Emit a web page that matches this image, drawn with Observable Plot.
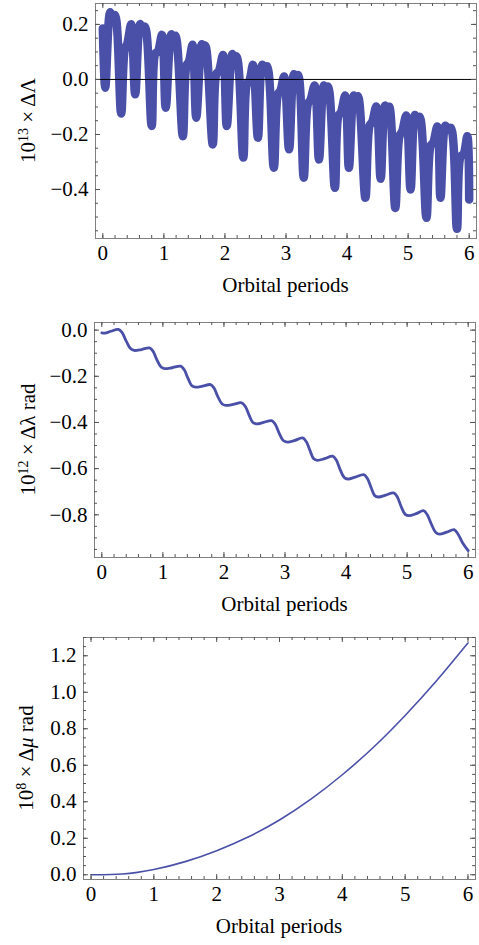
<!DOCTYPE html>
<html><head><meta charset="utf-8">
<script src="https://cdn.jsdelivr.net/npm/d3@7"></script>
<script src="https://cdn.jsdelivr.net/npm/@observablehq/plot@0.6"></script>
<style>
body{margin:0;background:#fff}
#chart svg{display:block}
</style></head><body><div id="chart"></div>
<script>
// ---------- data ----------
// Panel 1: 10^13 × ΔΛ (centre line of the thick oscillating band)
const periods1 = [0.00,0.04,0.12,0.16,0.20,0.30,0.36,0.40,0.465,0.53,0.61,0.65,0.69,0.80,0.86,0.90,0.97,1.03,1.12,1.155,1.19,1.31,1.37,1.41,1.47,1.53,1.62,1.65,1.68,1.80,1.86,1.90,1.97,2.03,2.12,2.155,2.19,2.30,2.36,2.40,2.46,2.54,2.61,2.65,2.69,2.80,2.87,2.91,2.97,3.05,3.13,3.165,3.20,3.29,3.36,3.40,3.47,3.54,3.62,3.655,3.69,3.80,3.86,3.90,3.97,4.03,4.11,4.145,4.18,4.30,4.37,4.41,4.48,4.55,4.62,4.655,4.69,4.79,4.86,4.90,4.97,5.04,5.11,5.15,5.19,5.30,5.37,5.41,5.48,5.53,5.61,5.655,5.70,5.80,5.86,5.91,5.97,6.00];
const dLambdaCap = [0.185,-0.03,0.244,0.222,0.234,-0.124,0.11,0.13,0.201,-0.054,0.201,0.183,0.192,-0.169,0.094,0.10,0.162,-0.103,0.164,0.148,0.159,-0.206,0.05,0.065,0.126,-0.139,0.128,0.113,0.123,-0.236,0.02,0.03,0.089,-0.169,0.092,0.078,0.084,-0.284,-0.016,-0.005,0.053,-0.212,0.053,0.04,0.048,-0.321,-0.052,-0.04,0.011,-0.254,0.019,0.006,0.016,-0.357,-0.088,-0.075,-0.022,-0.291,-0.022,-0.037,-0.026,-0.394,-0.131,-0.12,-0.058,-0.321,-0.058,-0.074,-0.061,-0.43,-0.167,-0.155,-0.098,-0.361,-0.095,-0.112,-0.099,-0.467,-0.204,-0.19,-0.131,-0.40,-0.129,-0.147,-0.136,-0.503,-0.24,-0.23,-0.171,-0.43,-0.168,-0.182,-0.176,-0.543,-0.28,-0.27,-0.206,-0.436];

// Panel 2: 10^12 × Δλ rad
const periods2 = [0.00,0.05,0.15,0.27,0.33,0.40,0.47,0.53,0.65,0.78,0.84,0.90,0.97,1.03,1.15,1.29,1.35,1.41,1.47,1.53,1.65,1.78,1.84,1.90,1.97,2.03,2.15,2.29,2.35,2.41,2.47,2.53,2.65,2.78,2.84,2.90,2.97,3.04,3.15,3.29,3.35,3.41,3.47,3.53,3.65,3.78,3.84,3.90,3.97,4.03,4.15,4.29,4.35,4.41,4.47,4.53,4.65,4.78,4.84,4.90,4.97,5.03,5.15,5.27,5.33,5.40,5.47,5.53,5.65,5.77,5.83,5.91,6.00];
const dLambda = [-0.012,-0.013,-0.005,0.003,-0.01,-0.048,-0.080,-0.088,-0.084,-0.077,-0.092,-0.128,-0.160,-0.167,-0.163,-0.156,-0.172,-0.208,-0.240,-0.247,-0.243,-0.236,-0.252,-0.288,-0.320,-0.326,-0.322,-0.315,-0.331,-0.367,-0.399,-0.406,-0.400,-0.392,-0.408,-0.444,-0.478,-0.485,-0.479,-0.467,-0.484,-0.522,-0.557,-0.564,-0.557,-0.546,-0.563,-0.602,-0.638,-0.645,-0.637,-0.626,-0.643,-0.682,-0.717,-0.723,-0.715,-0.705,-0.723,-0.763,-0.798,-0.804,-0.795,-0.782,-0.800,-0.842,-0.877,-0.884,-0.875,-0.864,-0.882,-0.922,-0.955];

// Panel 3: 10^8 × Δμ rad
const periods3 = [0,0.5,1.0,1.5,2.0,2.5,3.0,3.5,4.0,4.5,5.0,5.5,6.0];
const dMu = [0.000,0.004,0.029,0.072,0.132,0.207,0.300,0.414,0.548,0.700,0.873,1.063,1.270];

// Tick values
const xTicks = [0,1,2,3,4,5,6];
const yTicks1 = [-0.4,-0.2,0.0,0.2];
const yTicks2 = [-0.8,-0.6,-0.4,-0.2,0.0];
const yTicks3 = [0.0,0.2,0.4,0.6,0.8,1.0,1.2];
const xLabel = "Orbital periods";

// ---------- drawing ----------
const FONT = '"Liberation Serif","Times New Roman",Times,serif';
const BLUE = "#4a50a8";
const FRAME = "#808080";
const TICK = "#555";
const MAJ = 5, MIN = 3;
const fmtY = d => (Math.abs(d) < 1e-9 ? "0.0" : d.toFixed(1).replace("-", "\u2212"));
const xMinor = d3.range(0, 6.001, 0.2);

function panel({height, mt, mb, ml, mr, yDomain, yMajor, yMinor, dataMarks, ylabel, ylabelX}) {
  const W = 479;
  const pw = W - ml - mr, ph = height - mt - mb;
  const tickMarks = [];
  for (const [vals, len] of [[xTicks, MAJ], [xMinor, MIN]]) {
    tickMarks.push(Plot.tickX(vals, {x: d => d, stroke: TICK, insetTop: ph - len}));
    tickMarks.push(Plot.tickX(vals, {x: d => d, stroke: TICK, insetBottom: ph - len}));
  }
  for (const [vals, len] of [[yMajor, MAJ], [yMinor, MIN]]) {
    tickMarks.push(Plot.tickY(vals, {y: d => d, stroke: TICK, insetRight: pw - len}));
    tickMarks.push(Plot.tickY(vals, {y: d => d, stroke: TICK, insetLeft: pw - len}));
  }
  const svg = Plot.plot({
    width: W, height,
    marginTop: mt, marginBottom: mb, marginLeft: ml, marginRight: mr,
    style: {fontFamily: FONT, fontSize: "21px", color: "black", background: "white"},
    x: {domain: [-0.12, 6.12]},
    y: {domain: yDomain},
    marks: [
      ...dataMarks,
      Plot.frame({stroke: FRAME}),
      ...tickMarks,
      // tick labels
      Plot.axisX({anchor: "bottom", ticks: xTicks, tickSize: 0, tickPadding: 7, tickFormat: d => String(d), label: null, fontSize: 21}),
      Plot.axisY({anchor: "left", ticks: yMajor, tickSize: 0, tickPadding: 7, tickFormat: fmtY, label: null, fontSize: 21})
    ]
  });
  const sel = d3.select(svg);
  const g = sel.append("g").attr("font-family", FONT).attr("font-size", 21).attr("fill", "black");
  const cy = mt + ph / 2;
  const cx = ml + pw / 2;
  // y-axis label with superscript
  const t = g.append("text").attr("text-anchor", "middle")
    .attr("transform", `translate(${ylabelX},${cy}) rotate(-90)`);
  t.append("tspan").text("10");
  t.append("tspan").attr("font-size", 14).attr("dy", -7).text(ylabel.exp);
  t.append("tspan").attr("dy", 7).text(" \u00d7 " + ylabel.pre);
  if (ylabel.sym) t.append("tspan").attr("font-style", "italic").text(ylabel.sym);
  if (ylabel.post) t.append("tspan").text(ylabel.post);
  // x-axis label
  g.append("text").attr("text-anchor", "middle").attr("x", cx).attr("y", height - mb + 54).text(xLabel);
  return svg;
}

const data1 = periods1.map((p, i) => ({p, v: dLambdaCap[i]}));
const data2 = periods2.map((p, i) => ({p, v: dLambda[i]}));
const data3 = periods3.map((p, i) => ({p, v: dMu[i]}));

const root = document.getElementById("chart");
root.append(panel({
  height: 300, mt: 3, mb: 62, ml: 95, mr: 3,
  yDomain: [-0.578, 0.276], yMajor: yTicks1, yMinor: d3.range(-0.55, 0.27, 0.05),
  dataMarks: [
    Plot.line(data1, {x: "p", y: "v", stroke: BLUE, strokeWidth: 8.5, curve: "catmull-rom", strokeLinejoin: "round", strokeLinecap: "round"}),
    Plot.ruleY([0], {stroke: "black", strokeWidth: 1})
  ],
  ylabel: {exp: "13", pre: "\u0394\u039b"}, ylabelX: 35
}));
root.append(panel({
  height: 320, mt: 22, mb: 63, ml: 94, mr: 4,
  yDomain: [-0.985, 0.033], yMajor: yTicks2, yMinor: d3.range(-0.95, 0.01, 0.05),
  dataMarks: [
    Plot.line(data2, {x: "p", y: "v", stroke: BLUE, strokeWidth: 2.8, curve: "catmull-rom"})
  ],
  ylabel: {exp: "12", pre: "\u0394\u03bb rad"}, ylabelX: 35
}));
root.append(panel({
  height: 325, mt: 17, mb: 66, ml: 83, mr: 4,
  yDomain: [-0.026, 1.30], yMajor: yTicks3, yMinor: d3.range(0, 1.31, 0.05),
  dataMarks: [
    Plot.line(data3, {x: "p", y: "v", stroke: BLUE, strokeWidth: 1.6, curve: "natural"})
  ],
  ylabel: {exp: "8", pre: "\u0394", sym: "\u03bc", post: " rad"}, ylabelX: 33
}));
</script></body></html>
